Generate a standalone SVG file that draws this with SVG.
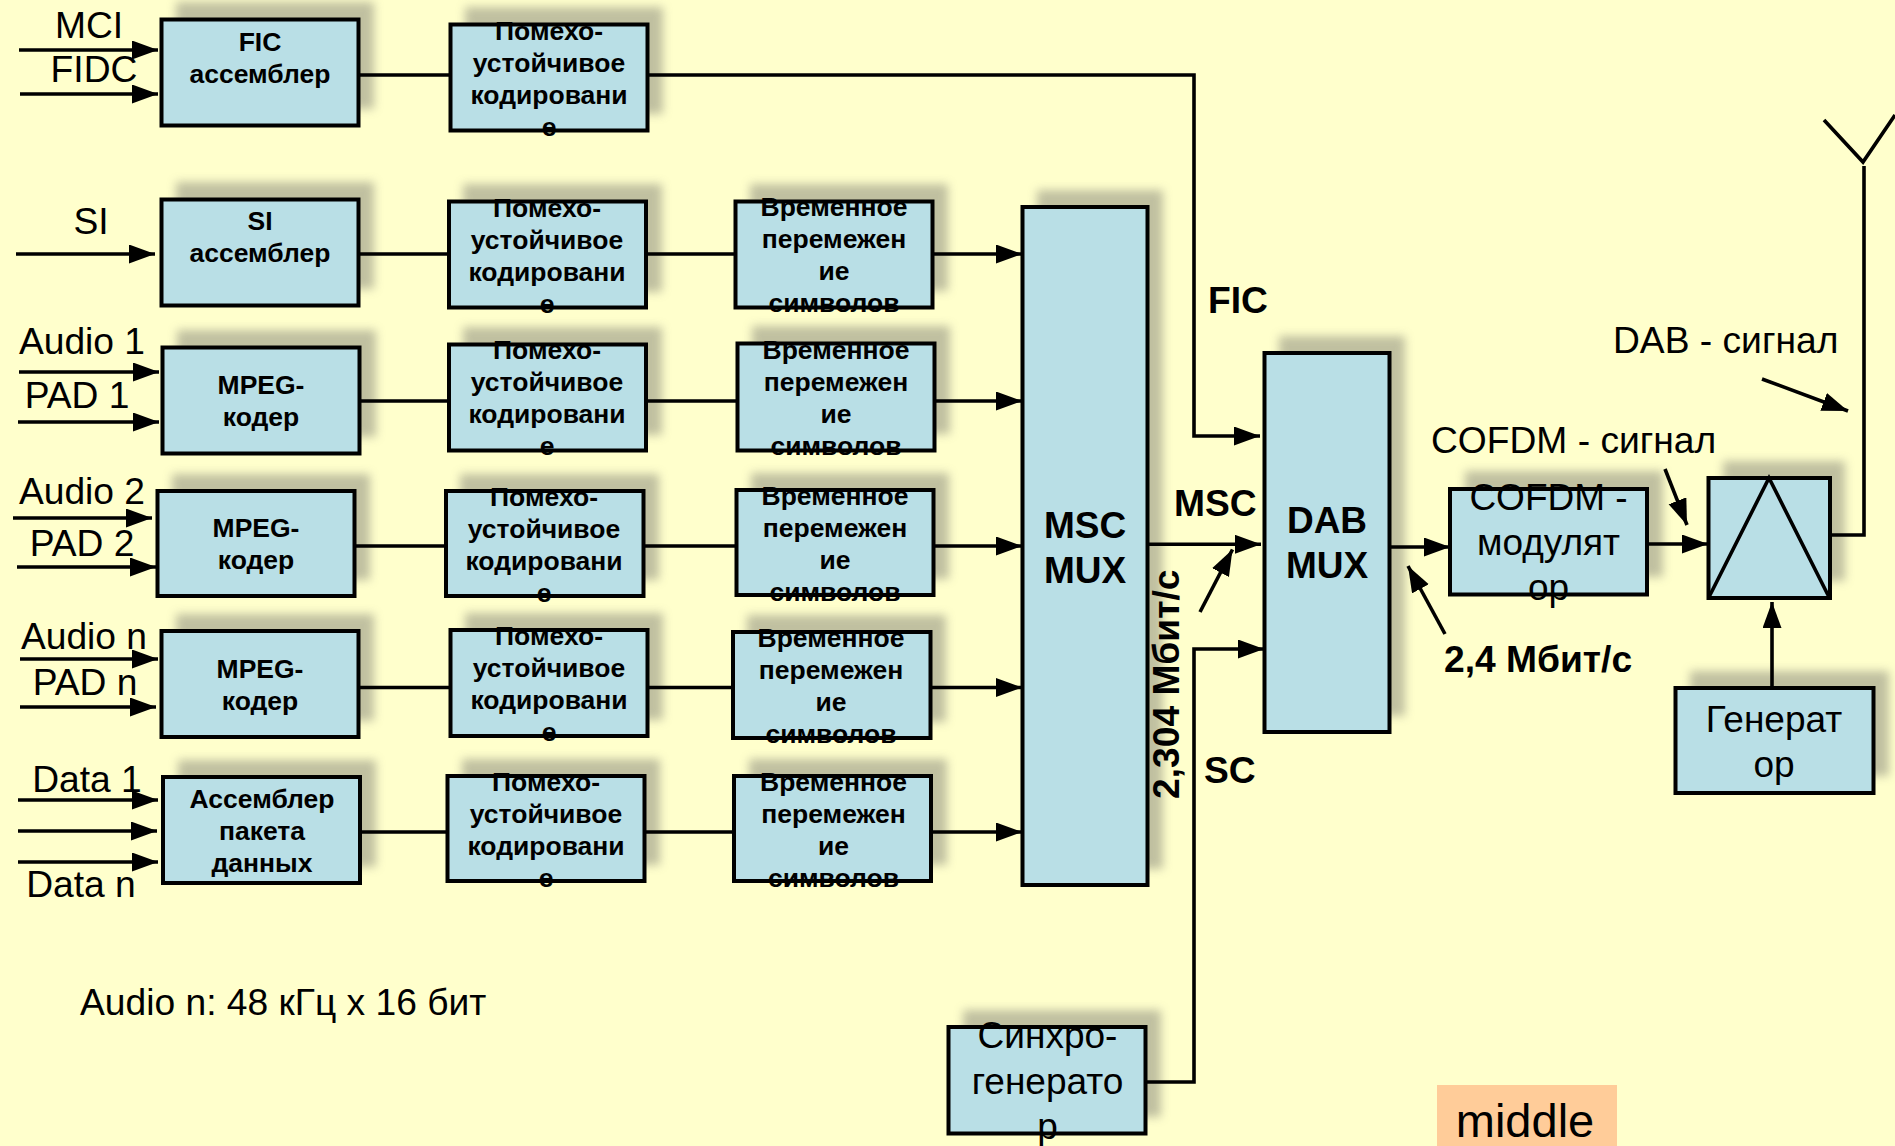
<svg xmlns="http://www.w3.org/2000/svg" width="1895" height="1146" viewBox="0 0 1895 1146">
<style>
text{font-family:"Liberation Sans",Arial,sans-serif;fill:#000}
.b{font-weight:bold;font-size:26.5px;text-anchor:middle}
.bb{font-weight:bold;font-size:37px;text-anchor:middle}
.bl{font-weight:bold;font-size:37.2px}
.r{font-size:37px;text-anchor:middle}
.l{font-size:37.2px}
.m{text-anchor:middle}
.box{fill:#b9dfe6;stroke:#000;stroke-width:4}
.sh{fill:#a3a38c;opacity:.68;filter:url(#blur)}
.c{fill:none;stroke:#000;stroke-width:3.6}
.a{marker-end:url(#arr)}
</style>
<defs>
<filter id="blur" x="-20%" y="-20%" width="140%" height="140%"><feGaussianBlur stdDeviation="5"/></filter>
<marker id="arr" markerUnits="userSpaceOnUse" markerWidth="27" markerHeight="20" refX="26" refY="9.500" orient="auto"><path d="M0 0L26 9.500L0 19z" fill="#000"/></marker>
</defs>
<rect width="1895" height="1146" fill="#ffffcc"/>
<g id="shadows">
<rect class="sh" x="176" y="2" width="198" height="107"/><rect class="sh" x="465" y="7" width="198" height="107"/>
<rect class="sh" x="176" y="182" width="198" height="107"/><rect class="sh" x="463" y="184" width="199" height="108"/><rect class="sh" x="750" y="184" width="198" height="107"/>
<rect class="sh" x="177" y="330" width="199" height="107"/><rect class="sh" x="463" y="327" width="199" height="108"/><rect class="sh" x="752" y="326" width="198" height="108"/>
<rect class="sh" x="172" y="474" width="198" height="106"/><rect class="sh" x="460" y="474" width="199" height="106"/><rect class="sh" x="751" y="473" width="198" height="106"/>
<rect class="sh" x="176" y="614" width="198" height="107"/><rect class="sh" x="465" y="613" width="198" height="107"/><rect class="sh" x="747" y="615" width="199" height="107"/>
<rect class="sh" x="178" y="760" width="198" height="107"/><rect class="sh" x="462" y="759" width="198" height="106"/><rect class="sh" x="749" y="759" width="198" height="106"/>
<rect class="sh" x="1037" y="190" width="126" height="679"/><rect class="sh" x="1279" y="336" width="126" height="380"/>
<rect class="sh" x="1465" y="471" width="198" height="106"/><rect class="sh" x="1723" y="461" width="122" height="120"/>
<rect class="sh" x="1690" y="671" width="199" height="105"/><rect class="sh" x="963" y="1010" width="198" height="107"/>
</g>
<g id="connectors">
<path class="c a" d="M19 50H158"/><path class="c a" d="M20 94H158"/><path class="c a" d="M16 254H155"/>
<path class="c a" d="M19 372H159"/><path class="c a" d="M18 422H159"/><path class="c a" d="M13 518H152"/><path class="c a" d="M17 567H156"/>
<path class="c a" d="M20 659H158"/><path class="c a" d="M20 707H156"/><path class="c a" d="M18 800H158"/><path class="c a" d="M18 831H157"/><path class="c a" d="M18 862H158"/>
<path class="c" d="M359 75H450"/><path class="c a" d="M648 75H1194V436H1260"/>
<path class="c" d="M359 254H448M647 254H735"/><path class="c a" d="M933 254H1022"/>
<path class="c" d="M361 401H448M647 401H737"/><path class="c a" d="M935 401H1022"/>
<path class="c" d="M355 546H445M644 546H736"/><path class="c a" d="M934 546H1022"/>
<path class="c" d="M359 687.500H450M648 687.500H732"/><path class="c a" d="M931 687.500H1022"/>
<path class="c" d="M361 832H447M645 832H734"/><path class="c a" d="M932 832H1022"/>
<path class="c a" d="M1148 544.300H1261"/><path class="c a" d="M1200 612L1232.500 549.500"/><path class="c a" d="M1146 1082H1194V649H1264"/>
<path class="c a" d="M1390 547H1450"/><path class="c a" d="M1648 544H1708"/><path class="c a" d="M1445 634L1408 566"/>
<path class="c a" d="M1762 379L1848 411"/><path class="c a" d="M1665 469L1687 525"/><path class="c a" d="M1772 688V602"/>
<path class="c" d="M1827 535H1864V166"/><path class="c" d="M1824 120L1863 162L1895 115"/>
</g>
<g id="n-fic"><rect class="box" x="161.500" y="19.500" width="197" height="106"/><text class="b" x="260" y="51">FIC</text><text class="b" x="260" y="83">ассемблер</text></g>
<g id="n-fec1"><rect class="box" x="450.500" y="24.500" width="197" height="106"/><text class="b" x="549" y="40">Помехо-</text><text class="b" x="549" y="72">устойчивое</text><text class="b" x="549" y="104">кодировани</text><text class="b" x="549" y="136">е</text></g>
<g id="n-si"><rect class="box" x="161.500" y="199.500" width="197" height="106"/><text class="b" x="260" y="230">SI</text><text class="b" x="260" y="262">ассемблер</text></g>
<g id="n-fec2"><rect class="box" x="449" y="201.500" width="197" height="106"/><text class="b" x="547" y="217">Помехо-</text><text class="b" x="547" y="249">устойчивое</text><text class="b" x="547" y="281">кодировани</text><text class="b" x="547" y="313">е</text></g>
<g id="n-int2"><rect class="box" x="735.500" y="201.500" width="197" height="106"/><text class="b" x="834" y="216">Временное</text><text class="b" x="834" y="248">перемежен</text><text class="b" x="834" y="280">ие</text><text class="b" x="834" y="312">символов</text></g>
<g id="n-mpeg1"><rect class="box" x="162.500" y="347.500" width="197" height="106"/><text class="b" x="261" y="394">MPEG-</text><text class="b" x="261" y="426">кодер</text></g>
<g id="n-fec3"><rect class="box" x="449" y="344.500" width="197" height="106"/><text class="b" x="547" y="359">Помехо-</text><text class="b" x="547" y="391">устойчивое</text><text class="b" x="547" y="423">кодировани</text><text class="b" x="547" y="455">е</text></g>
<g id="n-int3"><rect class="box" x="737.500" y="343.500" width="197" height="107"/><text class="b" x="836" y="359">Временное</text><text class="b" x="836" y="391">перемежен</text><text class="b" x="836" y="423">ие</text><text class="b" x="836" y="455">символов</text></g>
<g id="n-mpeg2"><rect class="box" x="157.500" y="491" width="197" height="105"/><text class="b" x="256" y="537">MPEG-</text><text class="b" x="256" y="569">кодер</text></g>
<g id="n-fec4"><rect class="box" x="446" y="491" width="197.500" height="105"/><text class="b" x="544" y="506">Помехо-</text><text class="b" x="544" y="538">устойчивое</text><text class="b" x="544" y="570">кодировани</text><text class="b" x="544" y="602">е</text></g>
<g id="n-int4"><rect class="box" x="736.500" y="490" width="197" height="105"/><text class="b" x="835" y="504.500">Временное</text><text class="b" x="835" y="536.500">перемежен</text><text class="b" x="835" y="568.500">ие</text><text class="b" x="835" y="600.500">символов</text></g>
<g id="n-mpegn"><rect class="box" x="161.500" y="631" width="197" height="106"/><text class="b" x="260" y="678">MPEG-</text><text class="b" x="260" y="710">кодер</text></g>
<g id="n-fec5"><rect class="box" x="450.500" y="630" width="197" height="106"/><text class="b" x="549" y="645">Помехо-</text><text class="b" x="549" y="677">устойчивое</text><text class="b" x="549" y="709">кодировани</text><text class="b" x="549" y="741">е</text></g>
<g id="n-int5"><rect class="box" x="733" y="632" width="197.500" height="106"/><text class="b" x="831" y="647">Временное</text><text class="b" x="831" y="679">перемежен</text><text class="b" x="831" y="711">ие</text><text class="b" x="831" y="743">символов</text></g>
<g id="n-data"><rect class="box" x="163" y="777" width="197" height="106"/><text class="b" x="262" y="808">Ассемблер</text><text class="b" x="262" y="840">пакета</text><text class="b" x="262" y="872">данных</text></g>
<g id="n-fec6"><rect class="box" x="447.500" y="776" width="197" height="105"/><text class="b" x="546" y="791">Помехо-</text><text class="b" x="546" y="823">устойчивое</text><text class="b" x="546" y="855">кодировани</text><text class="b" x="546" y="887">е</text></g>
<g id="n-int6"><rect class="box" x="734" y="776" width="197" height="105"/><text class="b" x="833.500" y="791">Временное</text><text class="b" x="833.500" y="823">перемежен</text><text class="b" x="833.500" y="855">ие</text><text class="b" x="833.500" y="887">символов</text></g>
<g id="n-msc"><rect class="box" x="1022.500" y="207" width="125" height="678"/><text class="bb" x="1085" y="537.500">MSC</text><text class="bb" x="1085" y="582.500">MUX</text></g>
<g id="n-dab"><rect class="box" x="1264.500" y="353" width="125" height="379"/><text class="bb" x="1327" y="533">DAB</text><text class="bb" x="1327" y="578">MUX</text></g>
<g id="n-cofdm"><rect class="box" x="1450" y="489" width="197" height="105.500"/><text class="r" x="1548.500" y="510">COFDM -</text><text class="r" x="1548.500" y="555">модулят</text><text class="r" x="1548.500" y="600">ор</text></g>
<g id="n-amp"><rect class="box" x="1708.500" y="478" width="121.500" height="120"/><path class="c" d="M1709 597L1769 478L1829 597"/></g>
<g id="n-gen"><rect class="box" x="1675.500" y="688" width="198" height="105"/><text class="r" x="1774" y="732">Генерат</text><text class="r" x="1774" y="777">ор</text></g>
<g id="n-sync"><rect class="box" x="948.500" y="1027" width="197" height="106.500"/><text class="r" x="1047.500" y="1048">Синхро-</text><text class="r" x="1047.500" y="1093.500">генерато</text><text class="r" x="1047.500" y="1139">р</text></g>
<g id="labels">
<text class="l m" x="89" y="37.500">MCI</text><text class="l m" x="94" y="82">FIDC</text><text class="l m" x="91" y="234">SI</text>
<text class="l m" x="82" y="354">Audio 1</text><text class="l m" x="77" y="408">PAD 1</text>
<text class="l m" x="82" y="504">Audio 2</text><text class="l m" x="82" y="556">PAD 2</text>
<text class="l m" x="84" y="649">Audio n</text><text class="l m" x="85" y="695">PAD n</text>
<text class="l m" x="87" y="792">Data 1</text><text class="l m" x="81" y="897">Data n</text>
<text class="l" x="80" y="1015">Audio n: 48 кГц х 16 бит</text>
<text class="bl" x="1208" y="313">FIC</text><text class="bl" x="1174" y="516">MSC</text><text class="bl" x="1204" y="783">SC</text>
<text class="bl" x="1444" y="672">2,4 Мбит/с</text>
<text class="bl" transform="translate(1179 799) rotate(-90)">2,304 Мбит/с</text>
<text class="l" x="1613" y="353">DAB - сигнал</text><text class="l" x="1431" y="453">COFDM - сигнал</text>
</g>
<g id="middle"><rect x="1437" y="1085" width="180" height="61" fill="#ffcc99"/><text x="1525" y="1137" font-size="47" text-anchor="middle">middle</text></g>
</svg>
